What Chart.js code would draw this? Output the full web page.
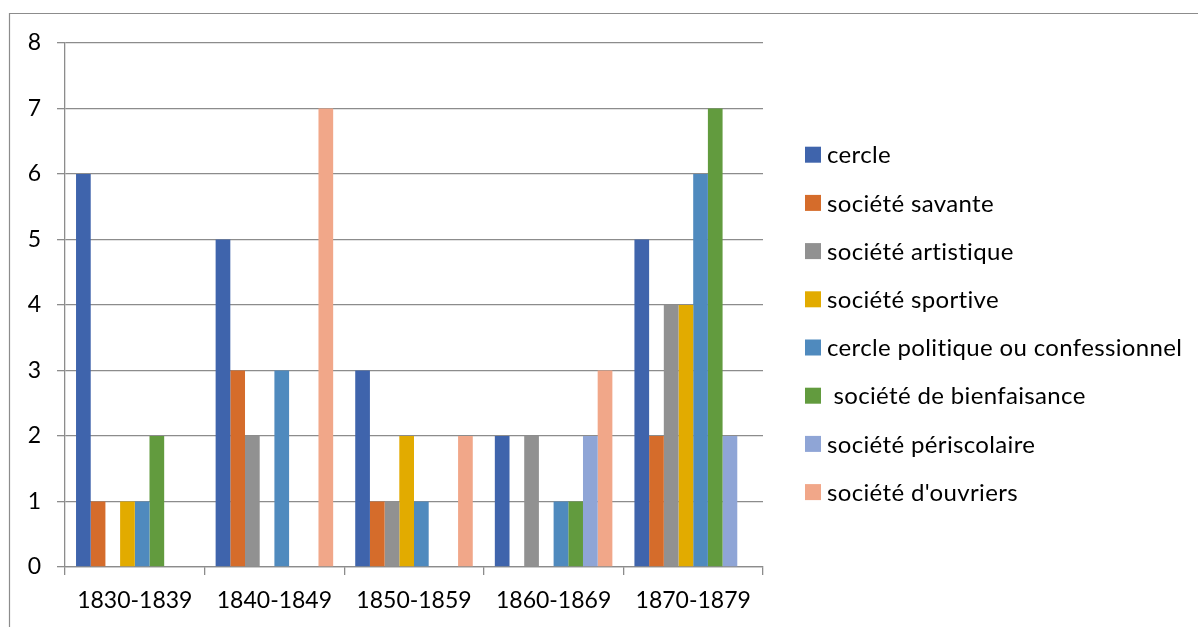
<!DOCTYPE html>
<html>
<head>
<meta charset="utf-8">
<script src="https://cdn.jsdelivr.net/npm/chart.js@4"></script>
<style>
  html, body { margin: 0; padding: 0; background: #fff; }
  #wrap { position: relative; width: 1199px; height: 627px; }
</style>
</head>
<body>
<div id="wrap"><canvas id="myChart" width="1199" height="627"></canvas></div>
<script>
// Données du graphique
const categories = ['1830-1839', '1840-1849', '1850-1859', '1860-1869', '1870-1879'];
const yTicks = [0, 1, 2, 3, 4, 5, 6, 7, 8];

const cercle       = [6, 5, 3, 2, 5];
const savante      = [1, 3, 1, 0, 2];
const artistique   = [0, 2, 1, 2, 4];
const sportive     = [1, 0, 2, 0, 4];
const politique    = [1, 3, 1, 1, 6];
const bienfaisance = [2, 0, 0, 1, 7];
const periscolaire = [0, 0, 0, 2, 2];
const ouvriers     = [0, 7, 2, 3, 0];

const seriesNames = ['cercle', 'société savante', 'société artistique', 'société sportive',
  'cercle politique ou confessionnel', ' société de bienfaisance', 'société périscolaire', "société d'ouvriers"];
const seriesData = [cercle, savante, artistique, sportive, politique, bienfaisance, periscolaire, ouvriers];
const seriesColors = ['#3f64ac', '#d56c2b', '#919191', '#e2ab00', '#4f8abe', '#629b3e', '#8fa5d6', '#f1a789'];

const fontFamily = 'Lato, "Open Sans", sans-serif';

// Cadre gris autour du graphique
const framePlugin = {
    id: 'frame',
    beforeDraw(chart) {
        const c = chart.ctx;
        c.save();
        c.strokeStyle = '#8c8c8c';
        c.lineWidth = 1.2;
        c.beginPath();
        c.moveTo(9.5, 627);
        c.lineTo(9.5, 13.5);
        c.lineTo(1198, 13.5);
        c.stroke();
        c.restore();
    }
};

// Légende dessinée à droite
const legendPlugin = {
    id: 'sideLegend',
    afterDraw(chart) {
        const c = chart.ctx;
        c.save();
        c.font = '24px ' + fontFamily;
        if ('letterSpacing' in c) c.letterSpacing = '0.35px'; // évite aussi la ligature "ti"
        c.textBaseline = 'middle';
        chart.data.datasets.forEach((ds, i) => {
            const y = 154.7 + i * 48.2;
            c.fillStyle = ds.backgroundColor;
            c.fillRect(805, y - 8, 16, 16);
            c.fillStyle = '#000';
            c.fillText(ds.label, 827, y + 1);
        });
        c.restore();
    }
};

document.addEventListener('DOMContentLoaded', function () {
    const ctx = document.getElementById('myChart').getContext('2d');

    const datasets = seriesNames.map((name, i) => ({
        label: name,
        data: seriesData[i],
        backgroundColor: seriesColors[i],
        borderWidth: 0,
        barPercentage: 1,
        categoryPercentage: 0.842
    }));

    new Chart(ctx, {
        type: 'bar',
        data: { labels: categories, datasets: datasets },
        options: {
            responsive: false,
            animation: false,
            layout: { padding: { left: 10, top: 43, right: 436, bottom: 0 } },
            scales: {
                x: {
                    grid: {
                        offset: true,
                        drawOnChartArea: false,
                        drawTicks: true,
                        tickLength: 8,
                        color: '#8c8c8c',
                        lineWidth: 1.3
                    },
                    border: { color: '#8c8c8c', width: 1.3 },
                    ticks: {
                        color: '#000',
                        font: { family: fontFamily, size: 23 },
                        padding: 12,
                        maxRotation: 0
                    },
                    afterFit: s => { s.height = 60; }
                },
                y: {
                    min: 0,
                    max: 8,
                    afterBuildTicks: s => { s.ticks = yTicks.map(v => ({ value: v })); },
                    grid: {
                        color: '#8c8c8c',
                        lineWidth: 1.3,
                        tickLength: 8
                    },
                    border: { color: '#8c8c8c', width: 1.3 },
                    ticks: {
                        color: '#000',
                        font: { family: fontFamily, size: 23 },
                        padding: 16
                    },
                    afterFit: s => { s.width = 55; }
                }
            },
            plugins: {
                legend: { display: false },
                tooltip: { enabled: false }
            }
        },
        plugins: [framePlugin, legendPlugin]
    });
});
</script>
</body>
</html>
